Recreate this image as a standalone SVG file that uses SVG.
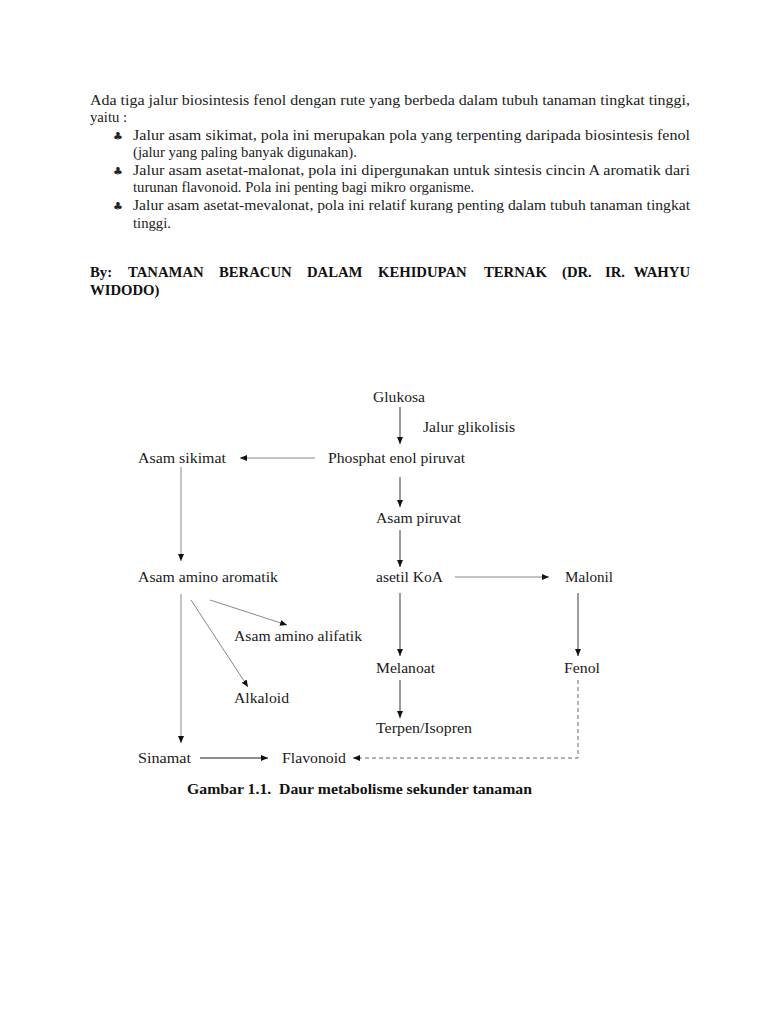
<svg xmlns="http://www.w3.org/2000/svg" width="768" height="1024" viewBox="0 0 768 1024">
<style>
.p{font-family:"Liberation Serif","Times New Roman",serif;font-size:14.7px;fill:#222}
.b{font-family:"Liberation Serif","Times New Roman",serif;font-size:14.7px;font-weight:bold;fill:#111}
.bul{font-family:"DejaVu Sans",sans-serif;font-size:11px;fill:#222}
.n{font-family:"Liberation Serif","Times New Roman",serif;font-size:15px;fill:#1a1a1a}
.cap{font-family:"Liberation Serif","Times New Roman",serif;font-size:15px;font-weight:bold;fill:#111}
.c{stroke:#666;stroke-width:1.3;fill:none}
.t{stroke:#888;stroke-width:1;fill:none}
.d{stroke:#666;stroke-width:1;fill:none;stroke-dasharray:4,3}
</style>
<defs>
<marker id="ah" markerWidth="8" markerHeight="8" refX="7" refY="4" orient="auto" markerUnits="userSpaceOnUse">
<path d="M0,1 L7,4 L0,7 Z" fill="#111"/>
</marker>
</defs>
<rect width="768" height="1024" fill="#fff"/>
<g id="text-body">
<text class="p" x="90" y="105" textLength="600" lengthAdjust="spacingAndGlyphs">Ada tiga jalur biosintesis fenol dengan rute yang berbeda dalam tubuh tanaman tingkat tinggi,</text>
<text class="p" x="90" y="122">yaitu :</text>
<text class="bul" x="113" y="140">♣</text>
<text class="p" x="133" y="140" textLength="557" lengthAdjust="spacingAndGlyphs">Jalur asam sikimat, pola ini merupakan pola yang terpenting daripada biosintesis fenol</text>
<text class="p" x="133" y="157">(jalur yang paling banyak digunakan).</text>
<text class="bul" x="113" y="175">♣</text>
<text class="p" x="133" y="175" textLength="557" lengthAdjust="spacingAndGlyphs">Jalur asam asetat-malonat, pola ini dipergunakan untuk sintesis cincin A aromatik dari</text>
<text class="p" x="133" y="192">turunan flavonoid. Pola ini penting bagi mikro organisme.</text>
<text class="bul" x="113" y="210">♣</text>
<text class="p" x="133" y="210" textLength="557" lengthAdjust="spacingAndGlyphs">Jalur asam asetat-mevalonat, pola ini relatif kurang penting dalam tubuh tanaman tingkat</text>
<text class="p" x="133" y="228">tinggi.</text>
<text class="b" y="277"><tspan x="90">By:</tspan><tspan x="128">TANAMAN</tspan><tspan x="219">BERACUN</tspan><tspan x="307">DALAM</tspan><tspan x="378">KEHIDUPAN</tspan><tspan x="484">TERNAK</tspan><tspan x="562">(DR.</tspan><tspan x="605">IR.</tspan></text>
<text class="b" x="690" y="277" text-anchor="end">WAHYU</text>
<text class="b" x="90" y="295">WIDODO)</text>
</g>
<g id="connectors">
<line class="c" x1="400" y1="407" x2="400" y2="444" marker-end="url(#ah)"/>
<line class="c" x1="400" y1="477" x2="400" y2="507" marker-end="url(#ah)"/>
<line class="c" x1="400" y1="530" x2="400" y2="567" marker-end="url(#ah)"/>
<line class="c" x1="400" y1="593" x2="400" y2="656" marker-end="url(#ah)"/>
<line class="c" x1="400" y1="680" x2="400" y2="718" marker-end="url(#ah)"/>
<line class="t" x1="315" y1="458" x2="240" y2="458" marker-end="url(#ah)"/>
<line class="t" x1="455" y1="577" x2="549" y2="577" marker-end="url(#ah)"/>
<line class="c" x1="578" y1="593" x2="578" y2="656" marker-end="url(#ah)"/>
<polyline class="d" points="578,680 578,758 353,758" marker-end="url(#ah)"/>
<line class="c" x1="200" y1="758" x2="268" y2="758" marker-end="url(#ah)"/>
<line class="t" x1="181" y1="467" x2="181" y2="561" marker-end="url(#ah)"/>
<line class="t" x1="181" y1="594" x2="181" y2="743" marker-end="url(#ah)"/>
<line class="t" x1="210" y1="600" x2="287" y2="625" marker-end="url(#ah)"/>
<line class="t" x1="191" y1="600" x2="248" y2="687" marker-end="url(#ah)"/>
</g>
<g id="n-glukosa"><text class="n" x="373" y="402" textLength="52" lengthAdjust="spacingAndGlyphs">Glukosa</text></g>
<g id="n-jalur"><text class="n" x="423" y="432" textLength="92" lengthAdjust="spacingAndGlyphs">Jalur glikolisis</text></g>
<g id="n-pep"><text class="n" x="328" y="463" textLength="137" lengthAdjust="spacingAndGlyphs">Phosphat enol piruvat</text></g>
<g id="n-sikimat"><text class="n" x="138" y="463" textLength="88" lengthAdjust="spacingAndGlyphs">Asam sikimat</text></g>
<g id="n-piruvat"><text class="n" x="376" y="523" textLength="85" lengthAdjust="spacingAndGlyphs">Asam piruvat</text></g>
<g id="n-aromatik"><text class="n" x="138" y="582" textLength="140" lengthAdjust="spacingAndGlyphs">Asam amino aromatik</text></g>
<g id="n-asetil"><text class="n" x="376" y="582" textLength="67" lengthAdjust="spacingAndGlyphs">asetil KoA</text></g>
<g id="n-malonil"><text class="n" x="565" y="582" textLength="48" lengthAdjust="spacingAndGlyphs">Malonil</text></g>
<g id="n-alifatik"><text class="n" x="234" y="641" textLength="128" lengthAdjust="spacingAndGlyphs">Asam amino alifatik</text></g>
<g id="n-melanoat"><text class="n" x="376" y="673" textLength="59" lengthAdjust="spacingAndGlyphs">Melanoat</text></g>
<g id="n-fenol"><text class="n" x="564" y="673" textLength="36" lengthAdjust="spacingAndGlyphs">Fenol</text></g>
<g id="n-alkaloid"><text class="n" x="234" y="703" textLength="55" lengthAdjust="spacingAndGlyphs">Alkaloid</text></g>
<g id="n-terpen"><text class="n" x="376" y="733" textLength="96" lengthAdjust="spacingAndGlyphs">Terpen/Isopren</text></g>
<g id="n-sinamat"><text class="n" x="138" y="763" textLength="53" lengthAdjust="spacingAndGlyphs">Sinamat</text></g>
<g id="n-flavonoid"><text class="n" x="282" y="763" textLength="64" lengthAdjust="spacingAndGlyphs">Flavonoid</text></g>
<g id="caption"><text class="cap" x="187" y="794" textLength="345" lengthAdjust="spacingAndGlyphs" xml:space="preserve">Gambar 1.1.  Daur metabolisme sekunder tanaman</text></g>
</svg>
